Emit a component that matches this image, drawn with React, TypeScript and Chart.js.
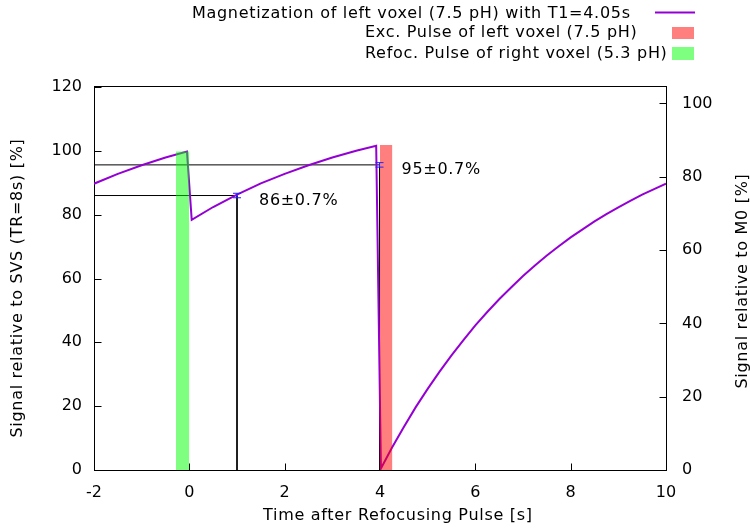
import { useEffect, useRef } from "react";
import { Chart, registerables } from "chart.js";

Chart.register(...registerables);

// Magnetization of the left voxel (signal relative to SVS, TR = 8 s)
const curveTime = [
  -2, -1.5, -1, -0.5, -0.05, 0.05, 0.5, 1, 1.5, 2, 2.5, 3, 3.5, 3.92, 4.02,
  4.25, 4.5, 4.75, 5, 5.25, 5.5, 5.75, 6, 6.25, 6.5, 6.75, 7, 7.25, 7.5, 7.75,
  8, 8.25, 8.5, 8.75, 9, 9.25, 9.5, 9.75, 10,
];
const curveSignal = [
  89.7, 92.8, 95.5, 97.9, 99.8, 78.4, 82.4, 86.3, 89.8, 92.8, 95.5, 97.9, 100.0,
  101.6, 0.5, 7.0, 13.5, 19.7, 25.4, 30.8, 35.9, 40.7, 45.3, 49.5, 53.5, 57.2,
  60.8, 64.1, 67.2, 70.1, 72.9, 75.4, 77.9, 80.2, 82.3, 84.3, 86.3, 88.0, 89.7,
];

// Pulses: [start, end] in seconds and bar height
const refocPulse = [-0.28, 0];
const refocHeight = 99.8;
const excPulse = [4.0, 4.26];
const excHeight = 101.8;

// Read-out points with their uncertainty
const readoutTime = [1, 3.99];
const readoutSignal = [86, 95.6];
const readoutError = [0.7, 0.7];
const readoutLabels = ["86±0.7%", "95±0.7%"];

// Axes
const xMin = -2;
const xMax = 10;
const yMax = 120;
const y2Max = 104.5; // M0 scale: SVS(TR=8s) is ~87% of M0
const tickStep = 20;

const legendLabels = [
  "Magnetization of left voxel (7.5 pH) with T1=4.05s",
  "Exc. Pulse of left voxel (7.5 pH)",
  "Refoc. Pulse of right voxel (5.3 pH)",
];

const FONT = "16px 'DejaVu Sans'";
const SPACING = "0.7px";
const PURPLE = "#9400d3";
const RED = "rgba(255,0,0,0.5)";
const GREEN = "rgba(0,255,0,0.5)";

const decorPlugin = {
  id: "decor",
  beforeDatasetsDraw(chart: any) {
    const { ctx, chartArea: a, scales } = chart;
    ctx.save();
    ctx.strokeStyle = "#000";
    ctx.lineWidth = 1;
    ctx.strokeRect(a.left + 0.5, a.top - 0.5, a.right - a.left, a.bottom - a.top + 1);
    const tl = 7;
    ctx.beginPath();
    for (const t of scales.x.ticks) {
      const px = Math.round(scales.x.getPixelForValue(t.value)) + 0.5;
      ctx.moveTo(px, a.bottom + 0.5);
      ctx.lineTo(px, a.bottom + 0.5 - tl);
    }
    for (const t of scales.y.ticks) {
      const py = Math.round(scales.y.getPixelForValue(t.value)) + 0.5;
      ctx.moveTo(a.left + 0.5, py);
      ctx.lineTo(a.left + 0.5 + tl, py);
    }
    for (const t of scales.y2.ticks) {
      const py = Math.round(scales.y2.getPixelForValue(t.value)) + 0.5;
      ctx.moveTo(a.right + 0.5, py);
      ctx.lineTo(a.right + 0.5 - tl, py);
    }
    ctx.stroke();
    ctx.restore();
  },
  afterDatasetsDraw(chart: any) {
    const { ctx, scales } = chart;
    ctx.save();
    ctx.strokeStyle = "#2020ff";
    ctx.lineWidth = 1;
    ctx.font = FONT;
    ctx.letterSpacing = SPACING;
    ctx.fillStyle = "#000";
    ctx.textBaseline = "alphabetic";
    ctx.textAlign = "left";
    readoutTime.forEach((t, i) => {
      const px = scales.x.getPixelForValue(t);
      const py = scales.y.getPixelForValue(readoutSignal[i]);
      const pTop = scales.y.getPixelForValue(readoutSignal[i] + readoutError[i]);
      const pBot = scales.y.getPixelForValue(readoutSignal[i] - readoutError[i]);
      ctx.beginPath();
      ctx.moveTo(px, pTop);
      ctx.lineTo(px, pBot);
      ctx.moveTo(px - 4, pTop);
      ctx.lineTo(px + 4, pTop);
      ctx.moveTo(px - 4, pBot);
      ctx.lineTo(px + 4, pBot);
      ctx.stroke();
      ctx.fillText(readoutLabels[i], px + 22, py + 9);
    });
    ctx.restore();
  },
  afterDraw(chart: any) {
    const { ctx } = chart;
    ctx.save();
    ctx.font = FONT;
    ctx.letterSpacing = SPACING;
    ctx.fillStyle = "#000";
    ctx.textBaseline = "alphabetic";

    // axis titles
    ctx.textAlign = "left";
    ctx.fillText("Time after Refocusing Pulse [s]", 263, 520);
    ctx.textAlign = "center";
    ctx.save();
    ctx.translate(22, 288);
    ctx.rotate(-Math.PI / 2);
    ctx.fillText("Signal relative to SVS (TR=8s) [%]", 0, 0);
    ctx.restore();
    ctx.save();
    ctx.translate(747, 281);
    ctx.rotate(-Math.PI / 2);
    ctx.fillText("Signal relative to M0 [%]", 0, 0);
    ctx.restore();

    // key
    ctx.textAlign = "left";
    ctx.fillText(legendLabels[0], 192, 17.5);
    ctx.fillText(legendLabels[1], 365, 37);
    ctx.fillText(legendLabels[2], 365, 58);
    ctx.strokeStyle = PURPLE;
    ctx.lineWidth = 2;
    ctx.beginPath();
    ctx.moveTo(655, 12.5);
    ctx.lineTo(695, 12.5);
    ctx.stroke();
    ctx.fillStyle = RED;
    ctx.fillRect(672, 27, 22, 12);
    ctx.fillStyle = GREEN;
    ctx.fillRect(672, 47, 22, 13);
    ctx.restore();
  },
};

export default function App() {
  const canvasRef = useRef<HTMLCanvasElement | null>(null);

  useEffect(() => {
    const canvas = canvasRef.current;
    if (!canvas) return;

    const curve = curveTime.map((t, i) => ({ x: t, y: curveSignal[i] }));
    const guides = readoutTime.map((t, i) => [
      { x: xMin, y: readoutSignal[i] },
      { x: t, y: readoutSignal[i] },
      { x: t, y: 0 },
    ]);

    const tickFont = { family: "'DejaVu Sans'", size: 16 };

    const chart = new Chart(canvas, {
      type: "line",
      data: {
        datasets: [
          {
            data: [
              { x: refocPulse[0], y: refocHeight },
              { x: refocPulse[1], y: refocHeight },
            ],
            borderWidth: 0,
            borderColor: "rgba(0,0,0,0)",
            backgroundColor: GREEN,
            fill: "origin",
            pointRadius: 0,
            order: 0,
          },
          {
            data: [
              { x: excPulse[0], y: excHeight },
              { x: excPulse[1], y: excHeight },
            ],
            borderWidth: 0,
            borderColor: "rgba(0,0,0,0)",
            backgroundColor: RED,
            fill: "origin",
            pointRadius: 0,
            order: 0,
          },
          {
            data: curve,
            borderColor: PURPLE,
            borderWidth: 2,
            pointRadius: 0,
            tension: 0,
            fill: false,
            order: 1,
          },
          ...guides.map((g) => ({
            data: g,
            borderColor: "#000",
            borderWidth: 1,
            pointRadius: 0,
            tension: 0,
            fill: false,
            order: 2,
          })),
        ],
      },
      options: {
        animation: false,
        responsive: false,
        devicePixelRatio: 1,
        layout: { padding: { top: 87, left: 0, right: 0, bottom: 0 } },
        plugins: {
          legend: { display: false },
          tooltip: { enabled: false },
          title: { display: false },
        },
        scales: {
          x: {
            type: "linear",
            min: xMin,
            max: xMax,
            grid: { display: false, drawTicks: false },
            border: { display: false },
            ticks: {
              stepSize: 2,
              font: tickFont,
              color: "#000",
              padding: 13,
              maxRotation: 0,
            },
            afterFit: (s: any) => {
              s.height = 58;
            },
          },
          y: {
            type: "linear",
            position: "left",
            min: 0,
            max: yMax,
            grid: { display: false, drawTicks: false },
            border: { display: false },
            ticks: { stepSize: tickStep, font: tickFont, color: "#000", padding: 12 },
            afterFit: (s: any) => {
              s.width = 94;
            },
          },
          y2: {
            type: "linear",
            position: "right",
            min: 0,
            max: y2Max,
            grid: { display: false, drawTicks: false },
            border: { display: false },
            ticks: {
              stepSize: tickStep,
              includeBounds: false,
              font: tickFont,
              color: "#000",
              padding: 16,
            },
            afterFit: (s: any) => {
              s.width = 84;
            },
          },
        },
      },
      plugins: [decorPlugin],
    });

    return () => chart.destroy();
  }, []);

  return (
    <div style={{ position: "absolute", left: 0, top: 0, width: 750, height: 528, background: "#fff" }}>
      <canvas ref={canvasRef} width={750} height={528} />
    </div>
  );
}
